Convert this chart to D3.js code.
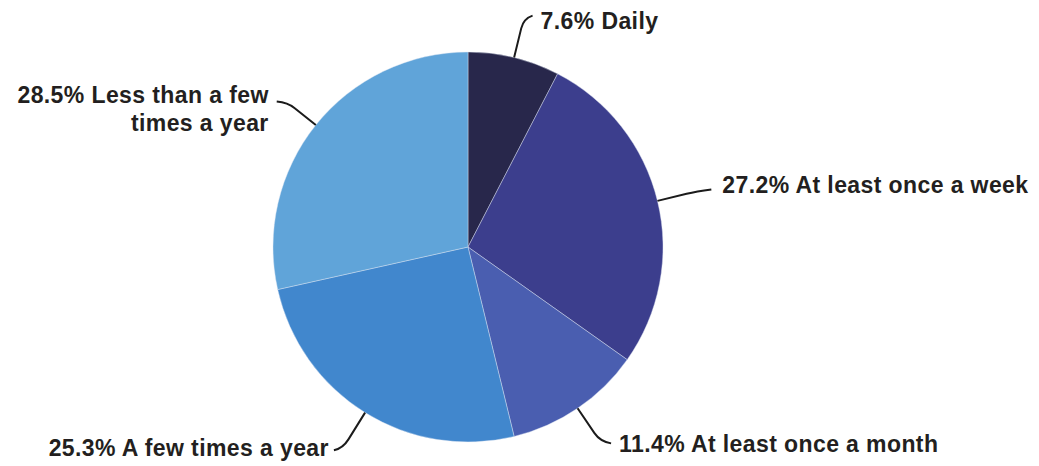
<!DOCTYPE html>
<html>
<head>
<meta charset="utf-8">
<script src="https://cdn.jsdelivr.net/npm/d3@7"></script>
<style>
  body { margin: 0; background: #fff; }
  .pie-label {
    font-family: "Liberation Sans", Arial, Helvetica, sans-serif;
    font-weight: bold;
    font-size: 23px;
    letter-spacing: 0.4px;
    fill: #231f20;
  }
  .leader { fill: none; stroke: #1b1b1b; stroke-width: 2; }
</style>
</head>
<body>
<div id="chart"></div>
<script>
// data, clockwise from 12 o'clock
const categories = ["Daily", "At least once a week", "At least once a month",
  "A few times a year", "Less than a few times a year"];
const shares = [7.6, 27.2, 11.4, 25.3, 28.5];
const labelLines = [
  ["7.6% Daily"],
  ["27.2% At least once a week"],
  ["11.4% At least once a month"],
  ["25.3% A few times a year"],
  ["28.5% Less than a few", "times a year"]
];
const colors = ["#28274b", "#3c3e8d", "#4a5eb0", "#4187cd", "#60a4d9"];

const width = 1039;
const height = 466;
const cx = 468;
const cy = 247;
const radius = 195;

const svg = d3.select("#chart")
    .append("svg")
    .attr("width", width)
    .attr("height", height);

const g = svg.append("g")
    .attr("transform", "translate(" + cx + "," + cy + ")");

const pie = d3.pie().sort(null).value((d) => d);
const arcs = pie(shares);

const arc = d3.arc().innerRadius(0).outerRadius(radius);

g.selectAll(".slice")
    .data(arcs)
    .enter()
    .append("path")
    .attr("class", "slice")
    .attr("d", arc)
    .attr("fill", (d, i) => colors[i])
    .attr("stroke", "#dfe8f4")
    .attr("stroke-width", 0.7)
    .attr("stroke-opacity", 0.6);

// leader line layout: radial extension, then a little horizontal hook
// ext = how far past the rim the elbow sits, hook = dx/dy of the end from the elbow
const leaderExt = [40, 40, 40, 42, 36];
const leaderHook = [[9, -3], [15, -2], [11, 2], [-9, 2], [-11, -1]];
// text anchor offset from the end of the line, and anchor side
const textOffset = [[8, 13], [11, 4], [8, 9], [-5, 6], [-8, 1]];
const textAnchor = ["start", "start", "start", "end", "end"];
const lineHeight = 28;

function polar(a, r) {
  return [Math.sin(a) * r, -Math.cos(a) * r];
}

const labels = g.selectAll(".label")
    .data(arcs)
    .enter()
    .append("g")
    .attr("class", "label");

labels.append("path")
    .attr("class", "leader")
    .attr("d", function(d, i) {
      const mid = (d.startAngle + d.endAngle) / 2;
      const p0 = polar(mid, radius);
      const p1 = polar(mid, radius + leaderExt[i]);
      const p2 = [p1[0] + leaderHook[i][0], p1[1] + leaderHook[i][1]];
      const pa = polar(mid, radius + leaderExt[i] * 0.75);
      return "M" + p0 + "L" + pa + "Q" + p1 + " " + p2;
    });

labels.append("text")
    .attr("class", "pie-label")
    .attr("text-anchor", (d, i) => textAnchor[i])
    .attr("transform", function(d, i) {
      const mid = (d.startAngle + d.endAngle) / 2;
      const p1 = polar(mid, radius + leaderExt[i]);
      const x = p1[0] + leaderHook[i][0] + textOffset[i][0];
      const y = p1[1] + leaderHook[i][1] + textOffset[i][1];
      return "translate(" + x + "," + y + ")";
    })
    .selectAll("tspan")
    .data((d, i) => labelLines[i])
    .enter()
    .append("tspan")
    .attr("x", 0)
    .attr("dy", (d, j) => j === 0 ? 0 : lineHeight)
    .text((d) => d);
</script>
</body>
</html>
